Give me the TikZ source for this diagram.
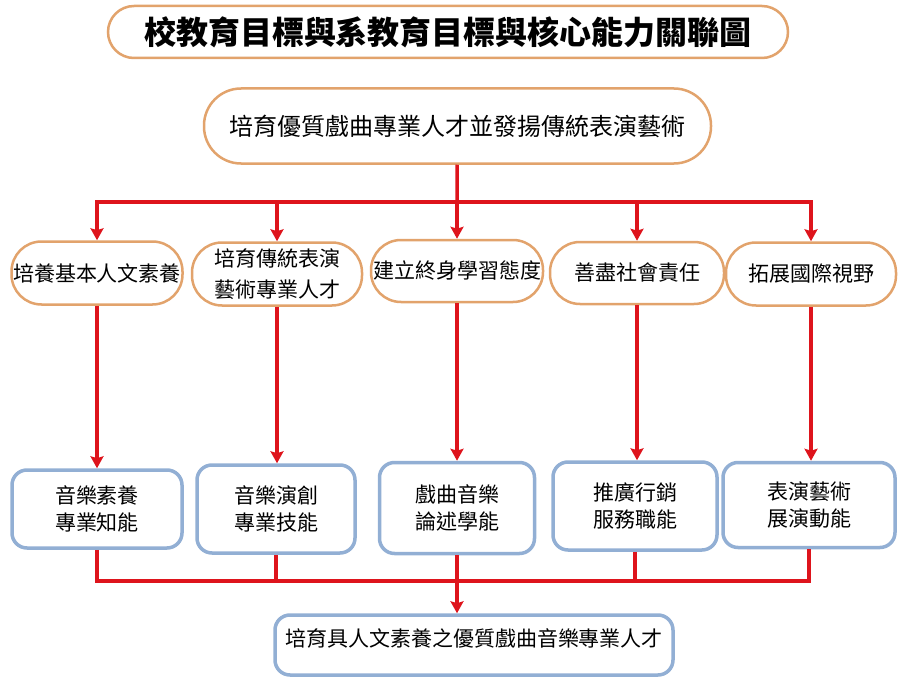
\documentclass[tikz,border=0pt]{standalone}
\usepackage{fontspec}
\setmainfont{Noto Sans CJK TC}
\usepackage{tikz}
\usetikzlibrary{arrows.meta}
\definecolor{boxorange}{RGB}{226,163,108}
\definecolor{boxblue}{RGB}{146,175,212}
\definecolor{linkred}{RGB}{222,20,28}

\begin{document}
\begin{tikzpicture}[x=1pt,y=-1pt,>={Stealth[length=12pt,width=13pt,inset=2pt]},
goal/.style={draw=boxorange,line width=2.5pt,fill=white,rounded corners=30pt,align=center,inner sep=0pt,font=\fontsize{21}{31}\selectfont},
ability/.style={draw=boxblue,line width=3.5pt,fill=white,rounded corners=15pt,align=center,inner sep=0pt,font=\fontsize{21}{27}\selectfont},
link/.style={draw=linkred,line width=3.5pt}]
\useasboundingbox(0,0)rectangle(898,677);
\node[goal,minimum width=680pt,minimum height=52pt,rounded corners=26pt,font=\fontsize{32}{36}\selectfont\bfseries](title)at(448,32){校教育目標與系教育目標與核心能力關聯圖};
\node[goal,minimum width=507pt,minimum height=75pt,rounded corners=37pt,font=\fontsize{24}{26}\selectfont](main)at(457.5,126){培育優質戲曲專業人才並發揚傳統表演藝術};
\node[goal,minimum width=171pt,minimum height=63pt](g1)at(97,273){培養基本人文素養};
\node[goal,minimum width=170pt,minimum height=63pt](g2)at(277,274){培育傳統表演\\藝術專業人才};
\node[goal,minimum width=172pt,minimum height=62pt](g3)at(457,271){建立終身學習態度};
\node[goal,minimum width=174pt,minimum height=62pt](g4)at(637,273){善盡社會責任};
\node[goal,minimum width=170pt,minimum height=63pt](g5)at(811,274){拓展國際視野};
\node[ability,minimum width=170pt,minimum height=78pt](a1)at(97,509){音樂素養\\專業知能};
\node[ability,minimum width=158pt,minimum height=88pt](a2)at(276,509){音樂演創\\專業技能};
\node[ability,minimum width=155pt,minimum height=91pt](a3)at(457,508){戲曲音樂\\論述學能};
\node[ability,minimum width=164pt,minimum height=88pt](a4)at(635,506){推廣行銷\\服務職能};
\node[ability,minimum width=172pt,minimum height=85pt](a5)at(809,505){表演藝術\\展演動能};
\node[ability,minimum width=398pt,minimum height=60pt,text height=16pt,text depth=14pt](talent)at(474,645){培育具人文素養之優質戲曲音樂專業人才};
\coordinate(top)at(457,202);
\coordinate(bot)at(457,581);
\draw[link](main)--(top);
\draw[link,line cap=rect](g1|-top)--(g5|-top);
\draw[link,line cap=rect](a1.south|-bot)--(a5.south|-bot);
\foreach \i in {1,...,5}{
\draw[link,->](g\i|-top)--(g\i);
\draw[link,->](g\i.south)--(g\i.south|-a\i.north);
\draw[link](a\i.south)--(a\i.south|-bot);
}
\draw[link,->](bot)--(bot|-talent.north);
\end{tikzpicture}
\end{document}
